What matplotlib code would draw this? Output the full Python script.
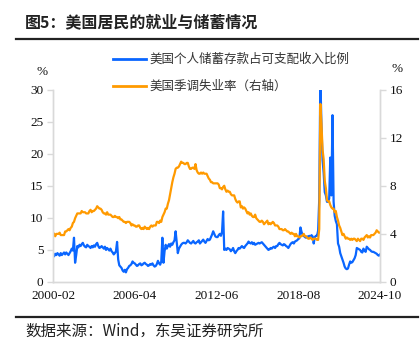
import matplotlib
matplotlib.use("Agg")
import matplotlib.pyplot as plt
from matplotlib.lines import Line2D

# ---------------- data ----------------
tick_labels = ["2000-02", "2006-04", "2012-06", "2018-08", "2024-10"]
tick_months = [0, 74, 148, 222, 296]

# 美国个人储蓄存款占可支配收入比例 (%), monthly 2000-02 .. 2024-10
saving_rate = (
    [4.3, 4.0, 4.4, 4.2, 4.5, 4.3, 4.1, 4.5, 4.2, 4.4, 4.6] +                  # 2000
    [4.3, 4.6, 4.4, 4.2, 4.5, 4.8, 5.2, 4.9, 6.9, 3.0, 4.2, 5.6] +              # 2001
    [5.4, 5.8, 5.6, 5.9, 6.1, 5.7, 5.5, 5.4, 5.8, 5.6, 5.5, 5.3] +              # 2002
    [5.6, 5.4, 5.7, 5.5, 5.9, 6.1, 5.6, 5.3, 5.4, 5.6, 5.4, 5.2] +              # 2003
    [5.5, 5.0, 5.3, 5.1, 4.9, 5.2, 4.8, 4.6, 4.3, 4.5, 4.8, 6.25] +             # 2004
    [3.5, 2.6, 2.4, 2.2, 1.8, 1.6, 1.9, 1.5, 2.0, 2.2, 2.5, 2.6] +              # 2005
    [2.8, 3.2, 3.0, 2.9, 2.7, 2.5, 2.6, 2.8, 2.9, 2.6, 2.7, 2.9] +              # 2006
    [3.0, 2.8, 2.7, 2.5, 2.6, 2.8, 2.7, 2.9, 2.6, 2.4, 2.5, 2.8] +              # 2007
    [3.3, 2.9, 2.7, 3.2, 6.9, 3.0, 4.8, 5.8, 5.2, 5.6, 5.9, 5.5] +              # 2008
    [6.0, 5.8, 6.2, 6.5, 7.9, 6.2, 4.5, 5.2, 5.5, 5.8, 6.0, 6.1] +              # 2009
    [6.1, 6.0, 6.2, 6.5, 6.3, 6.1, 6.0, 6.2, 6.4, 6.1, 6.0, 6.2] +              # 2010
    [6.3, 6.5, 6.0, 6.2, 6.4, 6.6, 6.3, 6.1, 6.4, 6.7, 6.5, 6.6] +              # 2011
    [7.0, 7.4, 7.9, 7.5, 7.1, 7.0, 7.0, 7.3, 7.5, 7.2, 7.8, 11.0] +             # 2012
    [5.0, 5.2, 5.0, 5.3, 5.2, 5.1, 4.8, 5.0, 5.3, 4.8, 4.5, 4.8] +              # 2013
    [5.0, 5.3, 5.2, 5.4, 5.6, 5.4, 5.3, 5.6, 5.8, 6.0, 6.3, 6.1] +              # 2014
    [6.0, 6.2, 5.9, 6.1, 5.8, 5.9, 6.0, 6.1, 6.0, 6.1, 6.2, 6.0] +              # 2015
    [5.8, 5.6, 5.4, 5.2, 5.0, 5.1, 5.3, 5.2, 5.4, 5.5, 5.3, 5.6] +              # 2016
    [5.6, 5.9, 6.1, 5.9, 5.8, 5.7, 5.9, 5.8, 5.6, 5.5, 5.3, 5.6] +              # 2017
    [5.9, 6.1, 6.2, 6.0, 6.3, 6.4, 6.5, 6.7, 6.8, 8.5, 7.8, 7.3] +              # 2018
    [7.2, 7.0, 6.9, 7.1, 7.0, 7.2, 7.0, 7.3, 7.1, 6.0, 7.0, 7.2] +              # 2019
    [7.2, 8.0, 12.9, 32.0, 24.5, 19.0, 17.0, 14.0, 13.5, 12.5, 12.5, 13.0] +    # 2020
    [19.4, 13.5, 26.0, 12.5, 10.3, 9.5, 9.0, 6.0, 5.5, 4.5, 4.0, 3.5] +         # 2021
    [3.0, 2.4, 2.1, 2.0, 2.1, 2.7, 3.2, 3.0, 3.1, 3.4, 3.7, 4.2] +              # 2022
    [5.3, 5.2, 5.1, 5.0, 4.7, 4.6, 5.2, 4.9, 4.7, 5.5, 5.3, 5.1] +              # 2023
    [5.0, 4.8, 4.7, 4.7, 4.6, 4.5, 4.4, 4.2, 4.1, 4.3]                          # 2024
)

# 美国季调失业率 (%), monthly 2000-02 .. 2024-10 (right axis)
unemployment_rate = (
    [4.1, 4.0, 3.8, 4.0, 4.0, 4.0, 4.1, 3.9, 3.9, 3.9, 3.9] +
    [4.2, 4.2, 4.3, 4.4, 4.3, 4.5, 4.6, 4.9, 5.0, 5.3, 5.5, 5.7] +
    [5.7, 5.7, 5.7, 5.9, 5.8, 5.8, 5.8, 5.7, 5.7, 5.7, 5.9, 6.0] +
    [5.8, 5.9, 5.9, 6.0, 6.1, 6.3, 6.2, 6.1, 6.1, 6.0, 5.8, 5.7] +
    [5.7, 5.6, 5.8, 5.6, 5.6, 5.6, 5.5, 5.4, 5.4, 5.5, 5.4, 5.4] +
    [5.3, 5.4, 5.2, 5.2, 5.1, 5.0, 5.0, 4.9, 5.0, 5.0, 5.0, 4.9] +
    [4.7, 4.8, 4.7, 4.7, 4.6, 4.6, 4.7, 4.7, 4.5, 4.4, 4.5, 4.4] +
    [4.6, 4.5, 4.4, 4.5, 4.4, 4.6, 4.7, 4.6, 4.7, 4.7, 4.7, 5.0] +
    [5.0, 4.9, 5.1, 5.0, 5.4, 5.6, 5.8, 6.1, 6.1, 6.5, 6.8, 7.3] +
    [7.8, 8.3, 8.7, 9.0, 9.4, 9.5, 9.5, 9.6, 9.8, 10.0, 9.9, 9.9] +
    [9.8, 9.8, 9.9, 9.9, 9.6, 9.4, 9.4, 9.5, 9.5, 9.4, 9.8, 9.3] +
    [9.1, 9.0, 9.0, 9.1, 9.0, 9.1, 9.0, 9.0, 9.0, 8.8, 8.6, 8.5] +
    [8.3, 8.3, 8.2, 8.2, 8.2, 8.2, 8.2, 8.1, 7.8, 7.8, 7.7, 7.9] +
    [8.0, 7.7, 7.5, 7.6, 7.5, 7.5, 7.3, 7.2, 7.2, 7.2, 6.9, 6.7] +
    [6.6, 6.7, 6.7, 6.2, 6.3, 6.1, 6.2, 6.1, 5.9, 5.7, 5.8, 5.6] +
    [5.7, 5.5, 5.4, 5.4, 5.6, 5.3, 5.2, 5.1, 5.0, 5.0, 5.1, 5.0] +
    [4.8, 4.9, 5.0, 5.1, 4.8, 4.9, 4.8, 4.9, 5.0, 4.9, 4.7, 4.7] +
    [4.7, 4.6, 4.4, 4.4, 4.4, 4.3, 4.3, 4.4, 4.3, 4.2, 4.2, 4.1] +
    [4.0, 4.1, 4.0, 4.0, 3.8, 4.0, 3.8, 3.8, 3.7, 3.8, 3.8, 3.9] +
    [4.0, 3.8, 3.8, 3.7, 3.6, 3.6, 3.7, 3.6, 3.5, 3.6, 3.6, 3.6] +
    [3.5, 3.5, 4.4, 14.8, 13.2, 11.0, 10.2, 8.4, 7.8, 6.8, 6.7, 6.7] +
    [6.4, 6.2, 6.1, 6.1, 5.8, 5.9, 5.4, 5.1, 4.7, 4.5, 4.2, 3.9] +
    [4.0, 3.8, 3.6, 3.7, 3.6, 3.6, 3.5, 3.6, 3.5, 3.6, 3.6, 3.5] +
    [3.4, 3.6, 3.5, 3.4, 3.6, 3.6, 3.5, 3.7, 3.8, 3.9, 3.7, 3.8] +
    [3.7, 3.9, 3.9, 3.9, 4.0, 4.1, 4.3, 4.2, 4.1, 4.1]
)

left_ticks = [0, 5, 10, 15, 20, 25, 30]
right_ticks = [0, 4, 8, 12, 16]
label_saving = "美国个人储蓄存款占可支配收入比例"
label_unemp = "美国季调失业率（右轴）"

# ---------------- style ----------------
cjk = ["Noto Sans CJK SC", "DejaVu Sans"]
serif = ["Liberation Serif", "DejaVu Serif"]
BLUE = "#0A66FF"
ORANGE = "#FF9A00"
SPINE = "#D9D9D9"
TXT = "#222222"

W, H = 420, 353
fig = plt.figure(figsize=(W / 100, H / 100), dpi=100)
fig.patch.set_facecolor("white")

def fx(px):
    return px / W

def fy(py):
    return 1 - py / H

ax = fig.add_axes([fx(53), fy(282), fx(380) - fx(53), fy(89.5) - fy(282)])
ax2 = ax.twinx()

x = list(range(len(saving_rate)))
l1, = ax.plot(x, saving_rate, color=BLUE, lw=1.6, solid_joinstyle="round")
l2, = ax2.plot(x, unemployment_rate, color=ORANGE, lw=1.6, solid_joinstyle="round")

ax.set_xlim(0, len(saving_rate) - 1)
ax.set_ylim(0, 30)
ax2.set_ylim(0, 16)
ax.set_yticks(left_ticks)
ax2.set_yticks(right_ticks)
ax.set_xticks(tick_months)
ax.set_xticklabels(tick_labels)

for a in (ax, ax2):
    a.patch.set_alpha(0)
    a.spines["top"].set_visible(False)
    for s in ("left", "right", "bottom"):
        a.spines[s].set_color(SPINE)
        a.spines[s].set_linewidth(1.0)
    a.tick_params(axis="y", colors=SPINE, length=4, width=1.0, pad=3,
                  labelcolor="#111111", labelsize=9.5)
    for lab in a.get_yticklabels():
        lab.set_fontfamily(serif)
ax.tick_params(axis="x", length=0, pad=6, labelcolor="#111111", labelsize=9.5)
for lab in ax.get_xticklabels():
    lab.set_fontfamily(serif)

# percent labels
fig.text(fx(42), fy(72), "%", fontsize=9.5, family=serif, color="#111111",
         ha="center", va="center")
fig.text(fx(397), fy(69), "%", fontsize=9.5, family=serif, color="#111111",
         ha="center", va="center")

# legend (manual placement)
leg = fig.legend([l1, l2], [label_saving, label_unemp],
                 loc="center left", bbox_to_anchor=(fx(103), fy(73)),
                 frameon=False, prop={"family": cjk, "size": 9.0},
                 handlelength=2.6, handletextpad=0.35, labelspacing=1.1,
                 borderpad=0.3, labelcolor="#333333")
for h in leg.legend_handles:
    h.set_linewidth(2.0)

# title and separator lines
fig.text(fx(25), fy(22), "图5：美国居民的就业与储蓄情况", fontsize=11.5,
         fontweight="bold", family=cjk, color=TXT, ha="left", va="center")
fig.add_artist(Line2D([fx(16), fx(418)], [fy(39), fy(39)], color="#222222", lw=1.6))
fig.add_artist(Line2D([fx(16), fx(418)], [fy(316.5), fy(316.5)], color="#222222", lw=1.6))
fig.text(fx(25), fy(331), "数据来源：Wind，东吴证券研究所", fontsize=11.2,
         family=cjk, color=TXT, ha="left", va="center")

fig.savefig("out.png", dpi=100, facecolor="white")
